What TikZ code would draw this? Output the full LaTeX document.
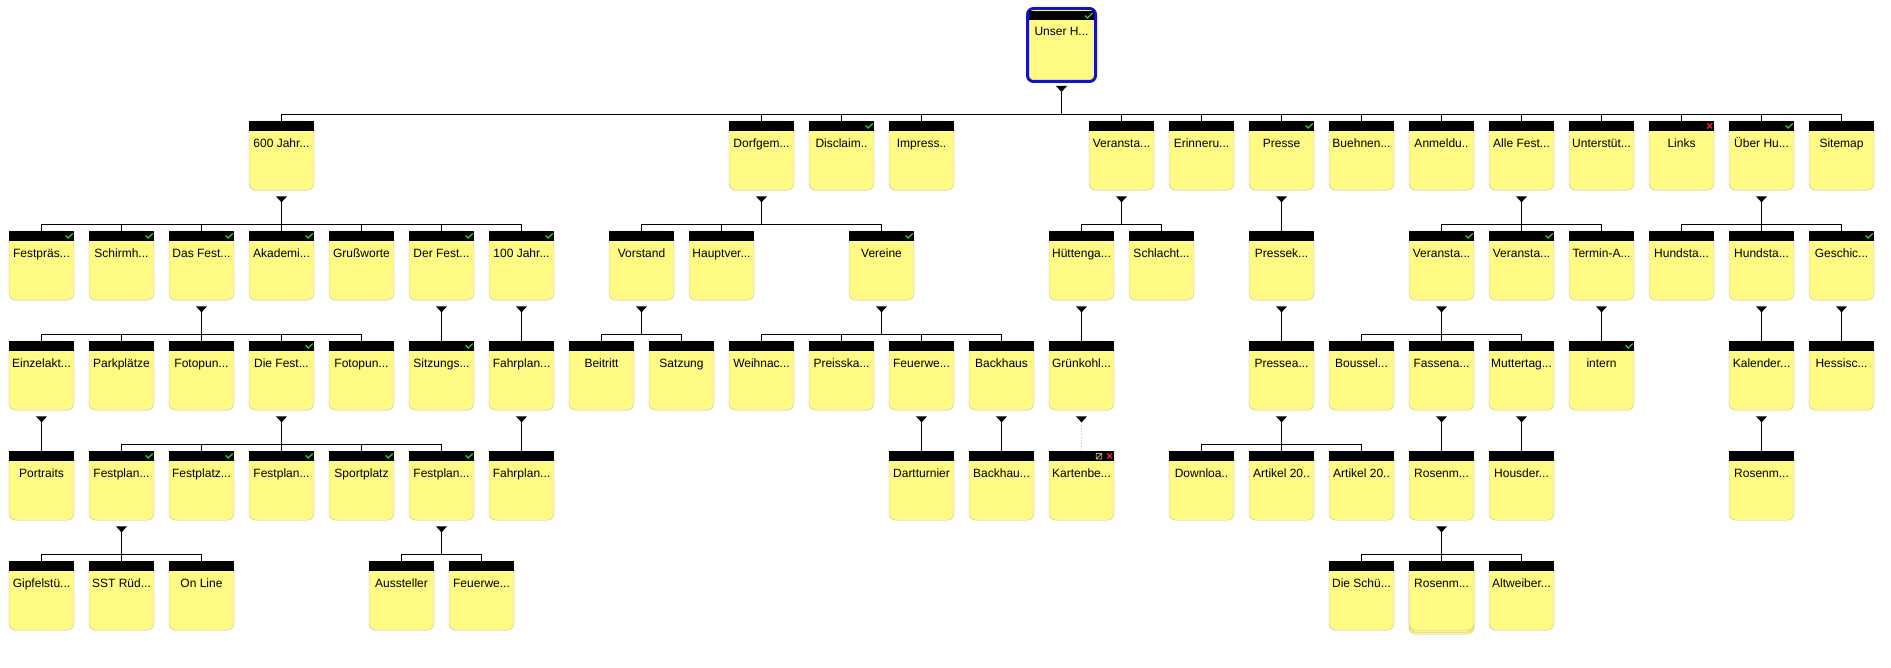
\documentclass[tikz,border=0pt]{standalone}
\usepackage{fontspec}
\usepackage{xcolor}
\usetikzlibrary{shadows}
\newfontfamily\pagefont{Liberation Sans}
\definecolor{pagefill}{HTML}{FFFA84}
\definecolor{pageline}{HTML}{C8BE8C}
\definecolor{rootblue}{HTML}{1414C0}
\definecolor{okgreen}{HTML}{3CC83C}
\definecolor{errred}{HTML}{E0303C}
\definecolor{edittan}{HTML}{C8A870}
\definecolor{dotgray}{HTML}{B4B4B4}
\tikzset{
  pagebox/.style={rectangle,rounded corners=7pt,draw=pageline,fill=pagefill,
                  minimum width=65pt,minimum height=69pt,anchor=north,
                  inner xsep=1pt,inner ysep=0pt,text height=26pt,text depth=43pt,
                  font=\pagefont\fontsize{12}{14}\selectfont},
  rootbox/.style={pagebox,draw=rootblue,line width=3pt,rounded corners=6pt,
                  minimum width=68pt,minimum height=73pt,
                  text height=27.5pt,text depth=45.5pt},
  stacked/.style={copy shadow={shadow xshift=0pt,shadow yshift=-4pt},
                  copy shadow={shadow xshift=0pt,shadow yshift=-2pt}},
  headbar/.style={fill=black},
  knob/.style={fill=black},
  link/.style={draw=black,line width=0.9pt},
  dotlink/.style={draw=dotgray,line width=0.9pt,dotted},
  okmark/.style={draw=okgreen,line width=1.2pt},
  errmark/.style={draw=errred,line width=1.2pt},
  editmark/.style={draw=edittan,line width=0.8pt},
}
% parent -> children: knob under the parent, then the bus down to each child
\newcommand{\fanout}[3][6pt]{%
  \fill[knob] ([yshift=-#1]#2.south) ++(-5.5pt,0pt) -- ++(11pt,0pt) -- ++(-5.5pt,-6pt) -- cycle;
  \foreach \kid in {#3}
    \draw[link] ([yshift=-#1-6pt]#2.south) |- ([yshift=7pt]\kid.north) -- (\kid.north);
}

\begin{document}
\begin{tikzpicture}[x=80pt,y=-1pt]

  \useasboundingbox (-41.5pt,0pt) rectangle (1849.5pt,-668pt);
  \fill[white] (-41.5pt,0pt) rectangle (1849.5pt,-668pt);

  %% ── root ─────────────────────────────────────────────────────────────────
  \node[rootbox] (root) at (12.75,7) {Unser H...};

  %% ── level 1 ──────────────────────────────────────────────────────────────
  \node[pagebox] (jahr600)  at (3,121)    {600 Jahr...};
  \node[pagebox] (dorf)     at (9,121)    {Dorfgem...};
  \node[pagebox] (discl)    at (10,121)   {Disclaim..};
  \node[pagebox] (impr)     at (11,121)   {Impress..};
  \node[pagebox] (veran)    at (13.5,121) {Veransta...};
  \node[pagebox] (erinn)    at (14.5,121) {Erinneru...};
  \node[pagebox] (presse)   at (15.5,121) {Presse};
  \node[pagebox] (buehn)    at (16.5,121) {Buehnen...};
  \node[pagebox] (anmeld)   at (17.5,121) {Anmeldu..};
  \node[pagebox] (allefest) at (18.5,121) {Alle Fest...};
  \node[pagebox] (unterst)  at (19.5,121) {Unterstüt...};
  \node[pagebox] (links)    at (20.5,121) {Links};
  \node[pagebox] (ueber)    at (21.5,121) {Über Hu...};
  \node[pagebox] (sitemap)  at (22.5,121) {Sitemap};

  %% ── level 2 ──────────────────────────────────────────────────────────────
  \node[pagebox] (fpraes)   at (0,231)    {Festpräs...};
  \node[pagebox] (schirm)   at (1,231)    {Schirmh...};
  \node[pagebox] (dasfest)  at (2,231)    {Das Fest...};
  \node[pagebox] (akadem)   at (3,231)    {Akademi...};
  \node[pagebox] (gruss)    at (4,231)    {Grußworte};
  \node[pagebox] (derfest)  at (5,231)    {Der Fest...};
  \node[pagebox] (jahr100)  at (6,231)    {100 Jahr...};
  \node[pagebox] (vorst)    at (7.5,231)  {Vorstand};
  \node[pagebox] (hauptv)   at (8.5,231)  {Hauptver...};
  \node[pagebox] (vereine)  at (10.5,231) {Vereine};
  \node[pagebox] (huette)   at (13,231)   {Hüttenga...};
  \node[pagebox] (schlacht) at (14,231)   {Schlacht...};
  \node[pagebox] (pressek)  at (15.5,231) {Pressek...};
  \node[pagebox] (veranA)   at (17.5,231) {Veransta...};
  \node[pagebox] (veranB)   at (18.5,231) {Veransta...};
  \node[pagebox] (termin)   at (19.5,231) {Termin-A...};
  \node[pagebox] (hundA)    at (20.5,231) {Hundsta...};
  \node[pagebox] (hundB)    at (21.5,231) {Hundsta...};
  \node[pagebox] (geschic)  at (22.5,231) {Geschic...};

  %% ── level 3 ──────────────────────────────────────────────────────────────
  \node[pagebox] (einzel)   at (0,341)    {Einzelakt...};
  \node[pagebox] (park)     at (1,341)    {Parkplätze};
  \node[pagebox] (fotoA)    at (2,341)    {Fotopun...};
  \node[pagebox] (diefest)  at (3,341)    {Die Fest...};
  \node[pagebox] (fotoB)    at (4,341)    {Fotopun...};
  \node[pagebox] (sitzung)  at (5,341)    {Sitzungs...};
  \node[pagebox] (fahrA)    at (6,341)    {Fahrplan...};
  \node[pagebox] (beitritt) at (7,341)    {Beitritt};
  \node[pagebox] (satzung)  at (8,341)    {Satzung};
  \node[pagebox] (weihn)    at (9,341)    {Weihnac...};
  \node[pagebox] (preis)    at (10,341)   {Preisska...};
  \node[pagebox] (feuerA)   at (11,341)   {Feuerwe...};
  \node[pagebox] (backh)    at (12,341)   {Backhaus};
  \node[pagebox] (gruenk)   at (13,341)   {Grünkohl...};
  \node[pagebox] (pressea)  at (15.5,341) {Pressea...};
  \node[pagebox] (boussel)  at (16.5,341) {Boussel...};
  \node[pagebox] (fassen)   at (17.5,341) {Fassena...};
  \node[pagebox] (mutter)   at (18.5,341) {Muttertag...};
  \node[pagebox] (intern)   at (19.5,341) {intern};
  \node[pagebox] (kalender) at (21.5,341) {Kalender...};
  \node[pagebox] (hessisc)  at (22.5,341) {Hessisc...};

  %% ── level 4 ──────────────────────────────────────────────────────────────
  \node[pagebox] (portraits) at (0,451)    {Portraits};
  \node[pagebox] (fplanA)    at (1,451)    {Festplan...};
  \node[pagebox] (fplatz)    at (2,451)    {Festplatz...};
  \node[pagebox] (fplanB)    at (3,451)    {Festplan...};
  \node[pagebox] (sport)     at (4,451)    {Sportplatz};
  \node[pagebox] (fplanC)    at (5,451)    {Festplan...};
  \node[pagebox] (fahrB)     at (6,451)    {Fahrplan...};
  \node[pagebox] (dart)      at (11,451)   {Dartturnier};
  \node[pagebox] (backhB)    at (12,451)   {Backhau...};
  \node[pagebox] (karten)    at (13,451)   {Kartenbe...};
  \node[pagebox] (downl)     at (14.5,451) {Downloa..};
  \node[pagebox] (artA)      at (15.5,451) {Artikel 20..};
  \node[pagebox] (artB)      at (16.5,451) {Artikel 20..};
  \node[pagebox] (rosenA)    at (17.5,451) {Rosenm...};
  \node[pagebox] (housder)   at (18.5,451) {Housder...};
  \node[pagebox] (rosenB)    at (21.5,451) {Rosenm...};

  %% ── level 5 ──────────────────────────────────────────────────────────────
  \node[pagebox] (gipfel)  at (0,561)    {Gipfelstü...};
  \node[pagebox] (sst)     at (1,561)    {SST Rüd...};
  \node[pagebox] (online)  at (2,561)    {On Line};
  \node[pagebox] (ausst)   at (4.5,561)  {Aussteller};
  \node[pagebox] (feuerB)  at (5.5,561)  {Feuerwe...};
  \node[pagebox] (schue)   at (16.5,561) {Die Schü...};
  \node[pagebox,stacked] (rosenC) at (17.5,561) {Rosenm...};
  \node[pagebox] (altw)    at (18.5,561) {Altweiber...};

  %% ── black title bars ─────────────────────────────────────────────────────
  \fill[headbar] ([xshift=3pt,yshift=-4pt]root.north west)
    rectangle ([xshift=-3pt,yshift=-13pt]root.north east);
  \foreach \n in {jahr600,dorf,discl,impr,veran,erinn,presse,buehn,anmeld,
                  allefest,unterst,links,ueber,sitemap,
                  fpraes,schirm,dasfest,akadem,gruss,derfest,jahr100,vorst,
                  hauptv,vereine,huette,schlacht,pressek,veranA,veranB,termin,
                  hundA,hundB,geschic,
                  einzel,park,fotoA,diefest,fotoB,sitzung,fahrA,beitritt,
                  satzung,weihn,preis,feuerA,backh,gruenk,pressea,boussel,
                  fassen,mutter,intern,kalender,hessisc,
                  portraits,fplanA,fplatz,fplanB,sport,fplanC,fahrB,dart,
                  backhB,karten,downl,artA,artB,rosenA,housder,rosenB,
                  gipfel,sst,online,ausst,feuerB,schue,rosenC,altw}
    \fill[headbar] (\n.north west) rectangle ([yshift=-10pt]\n.north east);

  %% ── status marks ─────────────────────────────────────────────────────────
  \draw[okmark] ([xshift=-12pt,yshift=-8.5pt]root.north east)
    -- ++(2.5pt,-2.5pt) -- ++(5pt,5pt);
  \foreach \n in {discl,presse,ueber,fpraes,schirm,dasfest,akadem,derfest,
                  jahr100,vereine,veranA,veranB,geschic,diefest,sitzung,
                  intern,fplanA,fplatz,fplanB,sport,fplanC}
    \draw[okmark] ([xshift=-8.5pt,yshift=-4.5pt]\n.north east)
      -- ++(2.5pt,-2.5pt) -- ++(4.5pt,4.5pt);
  \foreach \n in {links,karten} {
    \draw[errmark] ([xshift=-7pt,yshift=-2.5pt]\n.north east) -- ++(5pt,-5pt);
    \draw[errmark] ([xshift=-2pt,yshift=-2.5pt]\n.north east) -- ++(-5pt,-5pt);
  }
  \draw[editmark] ([xshift=-18pt,yshift=-2.5pt]karten.north east)
    rectangle ++(5.5pt,-5.5pt) ++(-5.5pt,0pt) -- ++(5.5pt,5.5pt);

  %% ── connectors ───────────────────────────────────────────────────────────
  \fanout[3pt]{root}{jahr600,dorf,discl,impr,veran,erinn,presse,buehn,anmeld,
                     allefest,unterst,links,ueber,sitemap}
  \fanout{jahr600}{fpraes,schirm,dasfest,akadem,gruss,derfest,jahr100}
  \fanout{dorf}{vorst,hauptv,vereine}
  \fanout{veran}{huette,schlacht}
  \fanout{presse}{pressek}
  \fanout{allefest}{veranA,veranB,termin}
  \fanout{ueber}{hundA,hundB,geschic}
  \fanout{dasfest}{einzel,park,fotoA,diefest,fotoB}
  \fanout{derfest}{sitzung}
  \fanout{jahr100}{fahrA}
  \fanout{vorst}{beitritt,satzung}
  \fanout{vereine}{weihn,preis,feuerA,backh}
  \fanout{huette}{gruenk}
  \fanout{pressek}{pressea}
  \fanout{veranA}{boussel,fassen,mutter}
  \fanout{termin}{intern}
  \fanout{hundB}{kalender}
  \fanout{geschic}{hessisc}
  \fanout{einzel}{portraits}
  \fanout{diefest}{fplanA,fplatz,fplanB,sport,fplanC}
  \fanout{fahrA}{fahrB}
  \fanout{feuerA}{dart}
  \fanout{backh}{backhB}
  \fanout{pressea}{downl,artA,artB}
  \fanout{fassen}{rosenA}
  \fanout{mutter}{housder}
  \fanout{kalender}{rosenB}
  \fanout{fplanA}{gipfel,sst,online}
  \fanout{fplanC}{ausst,feuerB}
  \fanout{rosenA}{schue,rosenC,altw}

  %% ── hidden page: dotted link ─────────────────────────────────────────────
  \fill[knob] ([yshift=-6pt]gruenk.south) ++(-5.5pt,0pt) -- ++(11pt,0pt)
    -- ++(-5.5pt,-6pt) -- cycle;
  \draw[dotlink] ([yshift=-12pt]gruenk.south) -- (karten.north);

\end{tikzpicture}
\end{document}
